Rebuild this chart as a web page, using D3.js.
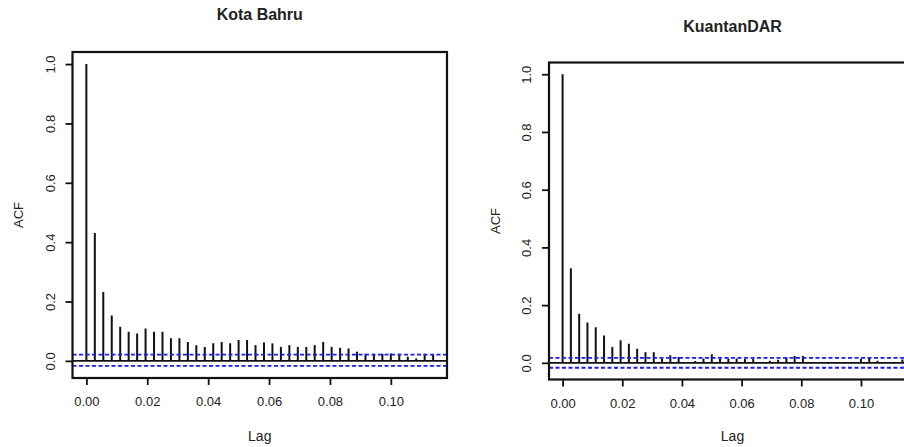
<!DOCTYPE html>
<html>
<head>
<meta charset="utf-8">
<script src="https://cdn.jsdelivr.net/npm/d3@7"></script>
<style>
  body { margin: 0; background: #fff; }
  svg { display: block; }
  text { font-family: "Liberation Sans", Arial, sans-serif; fill: #222; }
</style>
</head>
<body>
<div class="container"></div>
<script>
// ACF de dos estaciones, estilo plot(acf()) de R

const WIDTH = 904;
const HEIGHT = 447;

// valores
const LAG_STEP = 1 / 360;

const acfKotaBahru = [1.0, 0.431, 0.232, 0.153, 0.115, 0.098, 0.092, 0.109, 0.098, 0.098,
  0.076, 0.076, 0.064, 0.053, 0.047, 0.059, 0.064, 0.059, 0.070, 0.070,
  0.053, 0.062, 0.059, 0.047, 0.053, 0.047, 0.047, 0.053, 0.064, 0.047,
  0.044, 0.042, 0.031, 0.024, 0.024, 0.024, 0.025, 0.024, 0.014, 0.008,
  0.024, 0.023];

const acfKuantan = [1.0, 0.328, 0.170, 0.140, 0.123, 0.095, 0.055, 0.078, 0.066, 0.049,
  0.037, 0.037, 0.014, 0.026, 0.020, 0.003, 0.006, 0.015, 0.030, 0.014,
  0.015, 0.015, 0.013, 0.015, 0.002, 0.007, 0.011, 0.019, 0.024, 0.024,
  0.002, 0.001, -0.002, 0.001, -0.001, 0.002, 0.013, 0.017, 0.007, 0.001,
  -0.002, 0.012];

const ciKotaBahru = [0.021, -0.017];
const ciKuantan = [0.017, -0.017];

const yTicks = [0, 0.2, 0.4, 0.6, 0.8, 1.0];
const xTicks = [0, 0.02, 0.04, 0.06, 0.08, 0.10];

const titles = ['Kota Bahru', 'KuantanDAR'];

// posicion de cada panel (caja del grafico)
const PANELS = [
  { title: titles[0], acf: acfKotaBahru, ci: ciKotaBahru, left: 72.5, right: 447, top: 52, bottom: 378, titleY: 20, acfX: 18 },
  { title: titles[1], acf: acfKuantan, ci: ciKuantan, left: 549, right: 916, top: 62.5, bottom: 379.5, titleY: 32, acfX: 495 }
];

const svg = d3.select('.container')
              .append('svg')
                .attr('width', WIDTH)
                .attr('height', HEIGHT);

const extend = (lo, hi) => {
  const pad = (hi - lo) * 0.04;
  return [lo - pad, hi + pad];
};

PANELS.forEach(p => {
  const data = p.acf.map((v, i) => ({ lag: i * LAG_STEP, acf: v }));

  const xscale = d3.scaleLinear()
                   .domain(extend(0, d3.max(data, d => d.lag)))
                   .range([p.left, p.right]);
  const yscale = d3.scaleLinear()
                   .domain(extend(Math.min(d3.min(p.acf), p.ci[1]), Math.max(d3.max(p.acf), p.ci[0])))
                   .range([p.bottom, p.top]);

  const g = svg.append('g');

  const clipId = 'clip-' + p.left;
  svg.append('clipPath').attr('id', clipId)
    .append('rect')
      .attr('x', p.left).attr('y', p.top)
      .attr('width', p.right - p.left).attr('height', p.bottom - p.top);

  const plot = g.append('g').attr('clip-path', `url(#${clipId})`);

  // linea del cero
  plot.append('line')
      .attr('x1', p.left).attr('x2', p.right)
      .attr('y1', yscale(0)).attr('y2', yscale(0))
      .attr('stroke', '#111')
      .attr('stroke-width', 1.6);

  // barras
  plot.selectAll('.bar')
      .data(data)
      .enter().append('line')
        .attr('class', 'bar')
        .attr('x1', d => xscale(d.lag))
        .attr('x2', d => xscale(d.lag))
        .attr('y1', yscale(0))
        .attr('y2', d => yscale(d.acf))
        .attr('stroke', '#111')
        .attr('stroke-width', 2);

  // intervalos de confianza
  plot.selectAll('.ci')
      .data(p.ci)
      .enter().append('line')
        .attr('class', 'ci')
        .attr('x1', p.left).attr('x2', p.right)
        .attr('y1', d => yscale(d)).attr('y2', d => yscale(d))
        .attr('stroke', '#1a1aff')
        .attr('stroke-width', 1.8)
        .attr('stroke-dasharray', '4,2.5');

  // ejes
  const xAxis = g.append('g')
                 .attr('transform', `translate(0, ${p.bottom})`)
                 .call(d3.axisBottom(xscale).tickValues(xTicks).tickFormat(d3.format('.2f'))
                          .tickSize(7).tickPadding(12));
  const yAxis = g.append('g')
                 .attr('transform', `translate(${p.left}, 0)`)
                 .call(d3.axisLeft(yscale).tickValues(yTicks).tickFormat(d3.format('.1f')).tickSize(7));

  [xAxis, yAxis].forEach(a => {
    a.select('.domain').remove();
    a.selectAll('line').attr('stroke', '#111').attr('stroke-width', 1.8);
    a.selectAll('text')
     .style('font-size', '13px')
     .attr('fill', '#222');
  });

  yAxis.selectAll('text')
       .attr('x', 0)
       .attr('y', -22.5)
       .attr('dy', null)
       .attr('text-anchor', 'middle')
       .attr('dominant-baseline', 'central')
       .attr('transform', 'rotate(-90)');

  // caja
  g.append('rect')
   .attr('x', p.left).attr('y', p.top)
   .attr('width', p.right - p.left).attr('height', p.bottom - p.top)
   .attr('fill', 'none')
   .attr('stroke', '#111')
   .attr('stroke-width', 2.2);

  const cx = (p.left + p.right) / 2;
  const cy = (p.top + p.bottom) / 2;

  g.append('text')
   .attr('x', cx).attr('y', p.titleY)
   .attr('text-anchor', 'middle')
   .style('font-size', '16px')
   .style('font-weight', 'bold')
   .text(p.title);

  g.append('text')
   .attr('x', cx).attr('y', 441)
   .attr('text-anchor', 'middle')
   .style('font-size', '14px')
   .text('Lag');

  g.append('text')
   .attr('transform', `translate(${p.acfX}, ${cy}) rotate(-90)`)
   .attr('text-anchor', 'middle')
   .attr('dominant-baseline', 'central')
   .style('font-size', '13px')
   .text('ACF');
});
</script>
</body>
</html>
